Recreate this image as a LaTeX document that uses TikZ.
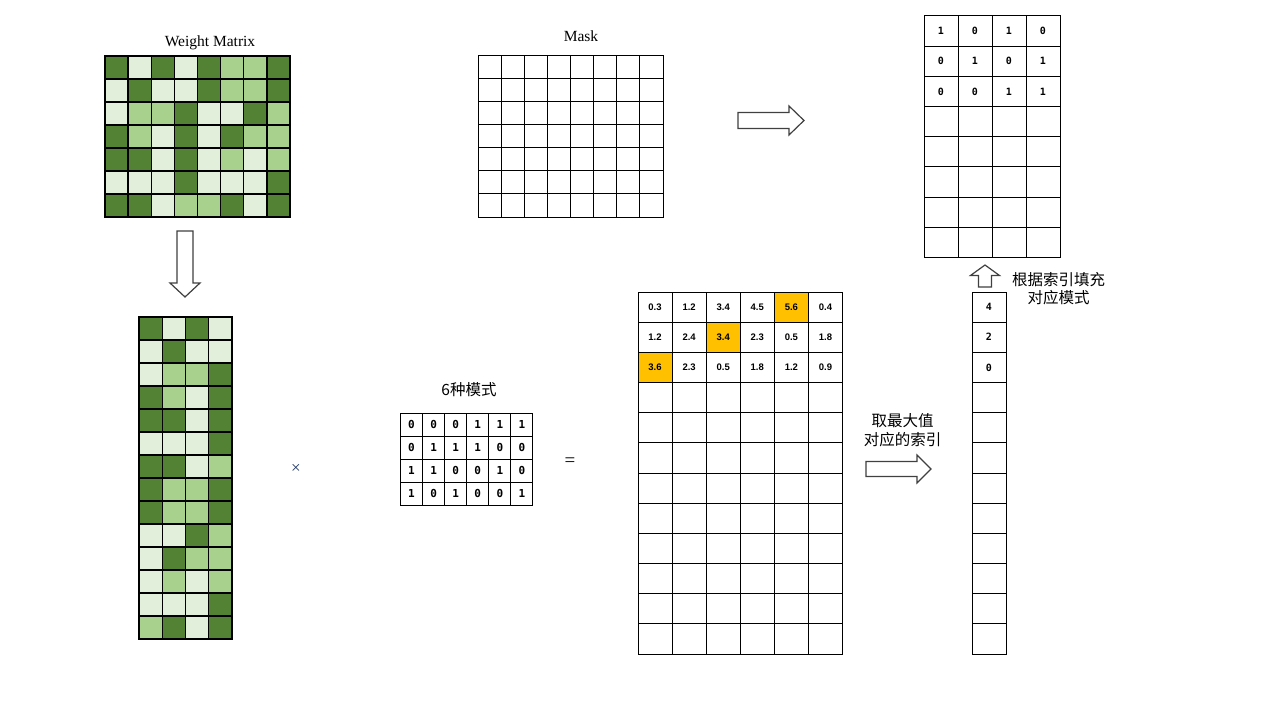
\documentclass[tikz,border=0pt]{standalone}
\usepackage{fontspec}
\setmainfont{Liberation Serif}
\newfontfamily\cjkf{Noto Sans CJK SC}
\newfontfamily\valf{Liberation Sans}
\newfontfamily\monof{DejaVu Sans Mono}
\definecolor{cD}{HTML}{548235}
\definecolor{cM}{HTML}{A9D18E}
\definecolor{cL}{HTML}{E2EFDA}
\definecolor{cO}{HTML}{FFC000}
\definecolor{cW}{HTML}{FFFFFF}
\definecolor{timescol}{HTML}{203864}
\tikzset{
  cell/.style={draw=black, line width=1bp, inner sep=0pt, outer sep=0pt, anchor=center},
  wcell/.style={cell, line width=1.3bp, minimum width=23.125bp, minimum height=23bp},
  lcell/.style={cell, line width=1.3bp, minimum width=23.25bp, minimum height=23bp},
  mcell/.style={cell, minimum width=23.125bp, minimum height=23bp},
  pcell/.style={cell, minimum width=22.08bp, minimum height=23bp, font=\monof\bfseries\fontsize{11bp}{13bp}\selectfont},
  bcell/.style={cell, minimum width=34.08bp, minimum height=30.17bp, text height=6.5bp, text depth=0pt, font=\valf\bfseries\fontsize{9.5bp}{11bp}\selectfont},
  rcell/.style={cell, minimum width=34bp, minimum height=30.17bp, font=\monof\bfseries\fontsize{10bp}{12bp}\selectfont},
  tcell/.style={cell, minimum width=34bp, minimum height=30.19bp, font=\monof\bfseries\fontsize{10bp}{12bp}\selectfont},
  serlbl/.style={inner sep=0pt, font=\fontsize{15.5bp}{18bp}\selectfont},
  cjklbl/.style={inner sep=0pt, align=center, font=\cjkf\fontsize{15.5bp}{19bp}\selectfont},
  blkarrow/.style={draw=black!75, fill=white, line width=1.2bp, line join=miter},
}
\newcommand\BlkArrow[7]{%
  \draw[blkarrow, shift={(#1,#2)}, rotate=#3]
    (0,-#6) -- ({#4-#5},-#6) -- ({#4-#5},-#7) -- (#4,0) -- ({#4-#5},#7) -- ({#4-#5},#6) -- (0,#6) -- cycle;}
\begin{document}
\begin{tikzpicture}[x=1bp,y=-1bp]
\useasboundingbox[fill=white] (0,0) rectangle (1280,720);

% Weight matrix
\foreach \row [count=\r] in {{D,L,D,L,D,M,M,D},{L,D,L,L,D,M,M,D},{L,M,M,D,L,L,D,M},{D,M,L,D,L,D,M,M},{D,D,L,D,L,M,L,M},{L,L,L,D,L,L,L,D},{D,D,L,M,M,D,L,D}} {
  \foreach \c [count=\k] in \row {
    \node[wcell, fill=c\c] (w-\r-\k) at ({105+(\k-0.5)*23.125},{56+(\r-0.5)*23}) {};
  }
}
\node[serlbl] (wlabel) at (210,42.5) {Weight Matrix};

% Reshaped matrix
\foreach \row [count=\r] in {{D,L,D,L},{L,D,L,L},{L,M,M,D},{D,M,L,D},{D,D,L,D},{L,L,L,D},{D,D,L,M},{D,M,M,D},{D,M,M,D},{L,L,D,M},{L,D,M,M},{L,M,L,M},{L,L,L,D},{M,D,L,D}} {
  \foreach \c [count=\k] in \row {
    \node[lcell, fill=c\c] (l-\r-\k) at ({139+(\k-0.5)*23.25},{317+(\r-0.5)*23}) {};
  }
}

% Mask
\foreach \r in {1,...,7} {
  \foreach \k in {1,...,8} {
    \node[mcell] (m-\r-\k) at ({478+(\k-0.5)*23.125},{56+(\r-0.5)*23}) {};
  }
}
\node[serlbl] (mlabel) at (581,36) {Mask};

% 6 patterns
\foreach \row [count=\r] in {{0,0,0,1,1,1},{0,1,1,1,0,0},{1,1,0,0,1,0},{1,0,1,0,0,1}} {
  \foreach \v [count=\k] in \row {
    \node[pcell] (p-\r-\k) at ({400.5+(\k-0.5)*22.08},{413+(\r-0.5)*23}) {\v};
  }
}
\node[cjklbl] (plabel) at (469,390) {6种模式};

% operators
\node[inner sep=0pt, text=timescol, font=\fontsize{17bp}{19bp}\selectfont] (times) at (296,468.5) {×};
\node[inner sep=0pt, font=\fontsize{19bp}{21bp}\selectfont] (eq) at (570,462) {=};

% Big result matrix
\foreach \row [count=\r] in {{0.3/W,1.2/W,3.4/W,4.5/W,5.6/O,0.4/W},{1.2/W,2.4/W,3.4/O,2.3/W,0.5/W,1.8/W},{3.6/O,2.3/W,0.5/W,1.8/W,1.2/W,0.9/W}} {
  \foreach \v/\f [count=\k] in \row {
    \node[bcell, fill=c\f] (b-\r-\k) at ({638+(\k-0.5)*34.08},{292+(\r-0.5)*30.17}) {\v};
  }
}
\foreach \r in {4,...,12} {
  \foreach \k in {1,...,6} {
    \node[bcell] (b-\r-\k) at ({638+(\k-0.5)*34.08},{292+(\r-0.5)*30.17}) {};
  }
}

% index column
\foreach \v [count=\r] in {4,2,0} {
  \node[rcell] (i-\r) at (989,{292+(\r-0.5)*30.17}) {\v};
}
\foreach \r in {4,...,12} {
  \node[rcell] (i-\r) at (989,{292+(\r-0.5)*30.17}) {};
}

% top-right filled mask
\foreach \row [count=\r] in {{1,0,1,0},{0,1,0,1},{0,0,1,1}} {
  \foreach \v [count=\k] in \row {
    \node[tcell] (t-\r-\k) at ({924+(\k-0.5)*34},{16+(\r-0.5)*30.19}) {\v};
  }
}
\foreach \r in {4,...,8} {
  \foreach \k in {1,...,4} {
    \node[tcell] (t-\r-\k) at ({924+(\k-0.5)*34},{16+(\r-0.5)*30.19}) {};
  }
}

% labels
\node[cjklbl] (maxlabel) at (902.5,430.5) {取最大值\\对应的索引};
\node[cjklbl, font=\cjkf\fontsize{15.5bp}{18bp}\selectfont] (filllabel) at (1058.5,289) {根据索引填充\\对应模式};

% block arrows
\BlkArrow{185}{231}{-90}{66}{14}{8}{15}
\BlkArrow{738}{120.5}{0}{66}{15}{8}{14.5}
\BlkArrow{866}{469}{0}{65}{14}{7.5}{14}
\BlkArrow{985}{287}{90}{22}{10.5}{6.5}{14.5}
\end{tikzpicture}
\end{document}
